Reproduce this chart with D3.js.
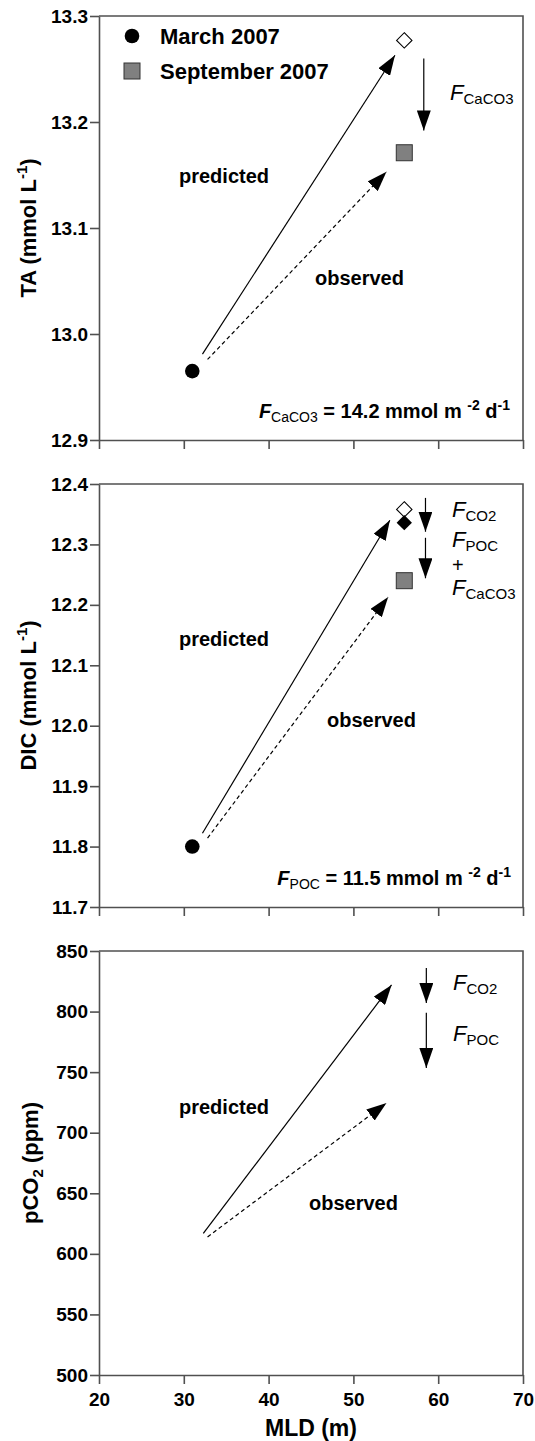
<!DOCTYPE html>
<html lang="en">
<head>
<meta charset="UTF-8">
<title>MLD vs TA, DIC, pCO2</title>
<style>
  body { margin: 0; background: #fff; }
  svg { display: block; font-family: "Liberation Sans", Arial, sans-serif; }
  .axis path, .axis line { stroke: #505050; stroke-width: 1.6; }
  .axis text { font-family: "Liberation Sans", Arial, sans-serif; font-size: 19px; font-weight: bold; fill: #000; }
  .lbl { font-size: 20px; font-weight: bold; fill: #000; }
</style>
</head>
<body>
<div id="chart"></div>
<script src="https://cdnjs.cloudflare.com/ajax/libs/d3/7.8.5/d3.min.js"></script>
<script>
// ---- data ----
var seasons = ["March 2007", "September 2007"];
var mld = [31, 56];                   // mixed layer depth (m)
var taObs = [12.965, 13.171];         // TA, mmol L-1
var taPred = 13.277;                  // predicted TA in September
var dicObs = [11.80, 12.24];          // DIC, mmol L-1
var dicPred = [12.358, 12.336];       // predicted DIC, before / after CO2 flux
var mldPred = 56;

// arrows: [x0, y0, x1, y1] in data units
var taArrows = { pred: [32.2, 12.981, 54.9, 13.263], obs: [32.8, 12.976, 53.9, 13.153] };
var dicArrows = { pred: [32.2, 11.822, 54.3, 12.340], obs: [32.8, 11.814, 54.1, 12.213] };
var pco2Arrows = { pred: [32.3, 617, 54.5, 822], obs: [32.8, 614, 53.9, 724.5] };

var taFlux = [[58.3, 13.260, 13.192]];
var dicFlux = [[58.5, 12.377, 12.321], [58.5, 12.311, 12.244]];
var pco2Flux = [[58.6, 836, 807], [58.6, 799, 753.5]];

var xTicks = [20, 30, 40, 50, 60, 70];
var taTicks = [12.9, 13.0, 13.1, 13.2, 13.3];
var dicTicks = [11.7, 11.8, 11.9, 12.0, 12.1, 12.2, 12.3, 12.4];
var pco2Ticks = [500, 550, 600, 650, 700, 750, 800, 850];

var width = 535, height = 1441;
var svg = d3.select("#chart").append("svg")
    .attr("width", width).attr("height", height);

svg.append("defs").append("marker")
    .attr("id", "head")
    .attr("markerUnits", "userSpaceOnUse")
    .attr("markerWidth", 21).attr("markerHeight", 14)
    .attr("refX", 20).attr("refY", 7)
    .attr("orient", "auto")
  .append("path")
    .attr("d", "M0,0L20,7L0,14Z")
    .attr("fill", "#000");

var x = d3.scaleLinear().domain([20, 70]).range([99, 523]);

var panels = [
    { key: "ta", domain: [12.9, 13.3], range: [440, 16], ticks: taTicks, fmt: d3.format(".1f"),
      label: [["TA (mmol L", {}], ["-1", { sup: 1 }], [")", {}]], arrows: taArrows, flux: taFlux },
    { key: "dic", domain: [11.7, 12.4], range: [907, 484], ticks: dicTicks, fmt: d3.format(".1f"),
      label: [["DIC (mmol L", {}], ["-1", { sup: 1 }], [")", {}]], arrows: dicArrows, flux: dicFlux },
    { key: "pco2", domain: [500, 850], range: [1375, 951], ticks: pco2Ticks, fmt: d3.format("d"),
      label: [["pCO", {}], ["2", { sub: 1 }], [" (ppm)", {}]], arrows: pco2Arrows, flux: pco2Flux }
];

// rich text helper: parts = [[text, {sub, sup, italic, bold, size}]]
function rich(sel, px, py, parts, opts) {
    opts = opts || {};
    var t = sel.append("text")
        .attr("x", px).attr("y", py)
        .attr("text-anchor", opts.anchor || "start")
        .attr("font-size", opts.size || 20)
        .attr("font-weight", opts.bold ? "bold" : "normal");
    if (opts.rotate) t.attr("transform", "rotate(-90," + px + "," + py + ")");
    var shift = 0;
    parts.forEach(function (p) {
        var o = p[1], s = 0;
        if (o.sub) s = opts.subShift || 5;
        if (o.sup) s = -(opts.supShift || 8);
        var ts = t.append("tspan").text(p[0]).attr("dy", s - shift);
        shift = s;
        if (o.sub || o.sup) ts.attr("font-size", o.size || (opts.smallSize || 14));
        if (o.size) ts.attr("font-size", o.size);
        if (o.italic) ts.attr("font-style", "italic");
        if (o.bold === 0) ts.attr("font-weight", "normal");
        if (o.bold === 1) ts.attr("font-weight", "bold");
    });
    return t;
}

panels.forEach(function (p, i) {
    var y = d3.scaleLinear().domain(p.domain).range(p.range);
    p.y = y;
    var g = svg.append("g");

    // frame: top and right edges
    g.append("path")
        .attr("d", "M" + x(20) + "," + y(p.domain[1]) + "H" + x(70) + "V" + y(p.domain[0]))
        .attr("fill", "none").attr("stroke", "#505050").attr("stroke-width", 1.6);

    g.append("g").attr("class", "axis")
        .attr("transform", "translate(" + x(20) + ",0)")
        .call(d3.axisLeft(y).tickValues(p.ticks).tickFormat(p.fmt)
            .tickSize(9).tickSizeOuter(0).tickPadding(2));

    var xa = d3.axisBottom(x).tickValues(xTicks).tickSize(9).tickSizeOuter(0).tickPadding(9);
    if (i < 2) xa.tickFormat("");
    g.append("g").attr("class", "axis")
        .attr("transform", "translate(0," + y(p.domain[0]) + ")")
        .call(xa);

    // y label
    var cy = (p.range[0] + p.range[1]) / 2;
    rich(g, i === 2 ? 38 : 36, cy, p.label,
        { anchor: "middle", rotate: true, bold: true, size: 22, smallSize: 15, supShift: 9, subShift: 5 });

    // predicted / observed arrows
    var a = p.arrows;
    g.append("line")
        .attr("x1", x(a.pred[0])).attr("y1", y(a.pred[1]))
        .attr("x2", x(a.pred[2])).attr("y2", y(a.pred[3]))
        .attr("stroke", "#000").attr("stroke-width", 1.2)
        .attr("marker-end", "url(#head)");
    g.append("line")
        .attr("x1", x(a.obs[0])).attr("y1", y(a.obs[1]))
        .attr("x2", x(a.obs[2])).attr("y2", y(a.obs[3]))
        .attr("stroke", "#000").attr("stroke-width", 1.2)
        .attr("stroke-dasharray", "4,3")
        .attr("marker-end", "url(#head)");

    // flux arrows (vertical)
    g.selectAll(".flux").data(p.flux).enter().append("line")
        .attr("x1", d => x(d[0])).attr("x2", d => x(d[0]))
        .attr("y1", d => y(d[1])).attr("y2", d => y(d[2]))
        .attr("stroke", "#000").attr("stroke-width", 1.2)
        .attr("marker-end", "url(#head)");

    g.append("text").attr("class", "lbl")
        .attr("x", 179).attr("y", [183, 646, 1114][i]).text("predicted");
    g.append("text").attr("class", "lbl")
        .attr("x", [315, 327, 309][i]).attr("y", [285, 727, 1210][i]).text("observed");
});

var yTA = panels[0].y, yDIC = panels[1].y;

// ---- top panel markers ----
var gTop = svg.append("g");
gTop.append("circle").attr("cx", x(mld[0])).attr("cy", yTA(taObs[0])).attr("r", 7.3).attr("fill", "#000");
gTop.append("rect")
    .attr("x", x(mld[1]) - 8).attr("y", yTA(taObs[1]) - 8).attr("width", 16).attr("height", 16)
    .attr("fill", "#808080").attr("stroke", "#333").attr("stroke-width", 1);
gTop.append("path")
    .attr("d", d3.symbol(d3.symbolDiamond2, 150)())
    .attr("transform", "translate(" + x(mldPred) + "," + yTA(taPred) + ")")
    .attr("fill", "#fff").attr("stroke", "#000").attr("stroke-width", 1.1);

// legend
var leg = svg.append("g");
leg.append("circle").attr("cx", 132).attr("cy", 36).attr("r", 7.3).attr("fill", "#000");
leg.append("rect").attr("x", 124).attr("y", 63).attr("width", 16).attr("height", 16)
    .attr("fill", "#808080").attr("stroke", "#333").attr("stroke-width", 1);
leg.selectAll(".lt").data(seasons).enter().append("text")
    .attr("x", 160).attr("y", (d, i) => 44 + i * 35)
    .attr("font-size", 22).attr("font-weight", "bold").text(d => d);

rich(svg, 450, 100, [["F", { italic: 1 }], ["CaCO3", { sub: 1 }]], { size: 22, smallSize: 15, subShift: 4 });
rich(svg, 510, 418, [["F", { italic: 1 }], ["CaCO3", { sub: 1, bold: 0 }], [" = 14.2 mmol m ", {}],
    ["-2", { sup: 1 }], [" d", {}], ["-1", { sup: 1 }]],
    { anchor: "end", bold: true, size: 20, smallSize: 14, subShift: 4, supShift: 8 });

// ---- middle panel markers ----
var gMid = svg.append("g");
gMid.append("circle").attr("cx", x(mld[0])).attr("cy", yDIC(dicObs[0])).attr("r", 7.3).attr("fill", "#000");
gMid.append("rect")
    .attr("x", x(mld[1]) - 8).attr("y", yDIC(dicObs[1]) - 8).attr("width", 16).attr("height", 16)
    .attr("fill", "#808080").attr("stroke", "#333").attr("stroke-width", 1);
gMid.append("path")
    .attr("d", d3.symbol(d3.symbolDiamond2, 150)())
    .attr("transform", "translate(" + x(mldPred) + "," + yDIC(dicPred[0]) + ")")
    .attr("fill", "#fff").attr("stroke", "#000").attr("stroke-width", 1.1);
gMid.append("path")
    .attr("d", d3.symbol(d3.symbolDiamond2, 150)())
    .attr("transform", "translate(" + x(mldPred) + "," + yDIC(dicPred[1]) + ")")
    .attr("fill", "#000");

rich(svg, 452, 517, [["F", { italic: 1 }], ["CO2", { sub: 1 }]], { size: 22, smallSize: 15, subShift: 4 });
rich(svg, 452, 547, [["F", { italic: 1 }], ["POC", { sub: 1 }]], { size: 22, smallSize: 15, subShift: 4 });
svg.append("text").attr("x", 452).attr("y", 572).attr("font-size", 20).text("+");
rich(svg, 452, 595, [["F", { italic: 1 }], ["CaCO3", { sub: 1 }]], { size: 22, smallSize: 15, subShift: 4 });
rich(svg, 511, 885, [["F", { italic: 1 }], ["POC", { sub: 1, bold: 0 }], [" = 11.5 mmol m ", {}],
    ["-2", { sup: 1 }], [" d", {}], ["-1", { sup: 1 }]],
    { anchor: "end", bold: true, size: 20, smallSize: 14, subShift: 4, supShift: 8 });

// ---- bottom panel labels ----
rich(svg, 453, 990, [["F", { italic: 1 }], ["CO2", { sub: 1 }]], { size: 22, smallSize: 15, subShift: 4 });
rich(svg, 453, 1041, [["F", { italic: 1 }], ["POC", { sub: 1 }]], { size: 22, smallSize: 15, subShift: 4 });

svg.append("text").attr("x", (x(20) + x(70)) / 2).attr("y", 1436)
    .attr("text-anchor", "middle").attr("font-size", 23).attr("font-weight", "bold")
    .text("MLD (m)");
</script>
</body>
</html>
